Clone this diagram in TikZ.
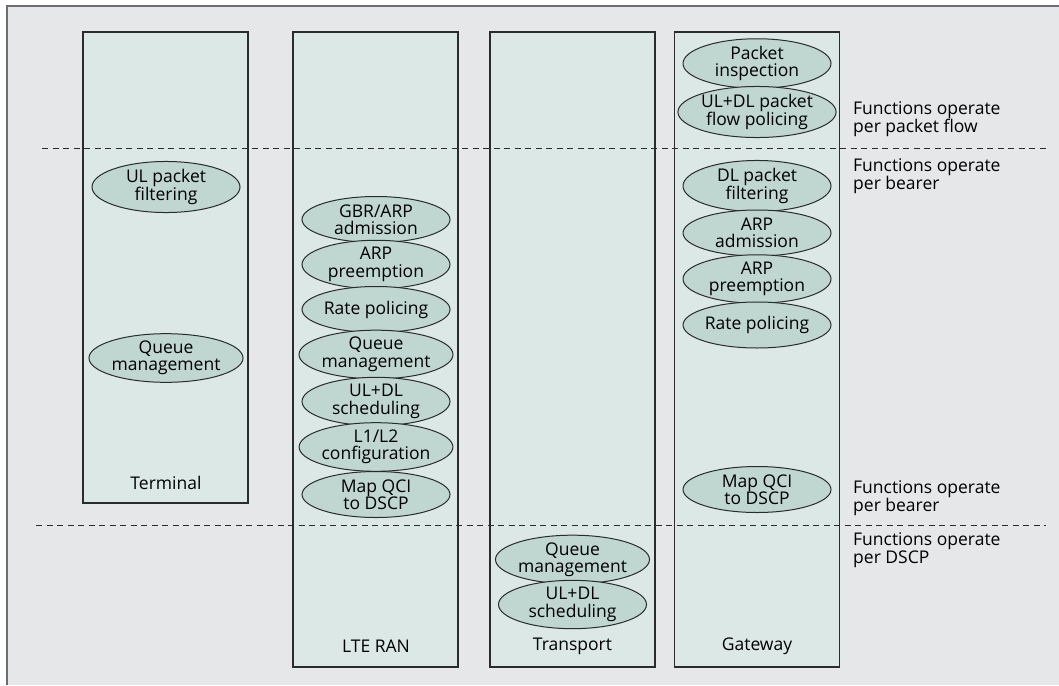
\documentclass[tikz,border=0pt]{standalone}
\usepackage{fontspec}
\setmainfont{Open Sans}
\usetikzlibrary{shapes.geometric}
\definecolor{bg}{HTML}{E6E7E9}
\definecolor{boxfill}{HTML}{DCE8E6}
\definecolor{ellfill}{HTML}{BFD6D1}
\definecolor{framecol}{HTML}{6D6E71}
\definecolor{linecol}{HTML}{2B2B2B}
\tikzset{
  col/.style={draw=linecol, line width=1.1pt, fill=boxfill, minimum width=165, inner sep=0},
  fn/.style={ellipse, draw=linecol, line width=1pt, fill=ellfill, minimum width=148, minimum height=46, inner sep=0, align=center, font=\fontsize{17.5}{17.5}\selectfont},
  lbl/.style={font=\fontsize{17.5}{18}\selectfont, inner sep=0},
  note/.style={anchor=west, align=left, inner sep=0, font=\fontsize{17.5}{18}\selectfont},
  sep/.style={draw=linecol, line width=0.9pt, dash pattern=on 6pt off 4.5pt}
}
\begin{document}
\begin{tikzpicture}[x=1pt,y=-1pt]
\useasboundingbox (0,0) rectangle (1059,685);
\fill[bg] (7,6) rectangle (1059,685);
\draw[framecol, line width=2pt] (7,685) -- (7,6) -- (1059,6);
% columns
\node[col, minimum height=471] (term) at (165.5,267.5) {};
\node[col, minimum height=635] (ran) at (375.5,349.5) {};
\node[col, minimum height=635] (trans) at (572.5,349.5) {};
\node[col, minimum height=635] (gw) at (757,349.5) {};
% separators
\coordinate (s1a) at (42,148); \coordinate (s1b) at (1048,148);
\coordinate (s2a) at (36,525); \coordinate (s2b) at (1046,525);
\draw[sep] (s1a) -- (s1b);
\draw[sep] (s2a) -- (s2b);
% column labels
\node[lbl] (lterm) at (166,483) {Terminal};
\node[lbl] (lran) at (376,646) {LTE RAN};
\node[lbl] (ltrans) at (572.5,646) {Transport};
\node[lbl] (lgw) at (757,646) {Gateway};
% terminal
\node[fn] (t1) at (166,187) {UL packet\\filtering};
\node[fn] (t2) at (166,358) {Queue\\management};
% LTE RAN
\node[fn] (r1) at (376,219.5) {GBR/ARP\\admission};
\node[fn] (r2) at (376,264.5) {ARP\\preemption};
\node[fn] (r3) at (376,309.5) {Rate policing};
\node[fn] (r4) at (376,354.5) {Queue\\management};
\node[fn] (r5) at (376,401.5) {UL+DL\\scheduling};
\node[fn] (r6) at (376,447) {L1/L2\\configuration};
\node[fn] (r7) at (376,494.5) {Map QCI\\to DSCP};
% transport
\node[fn] (p1) at (572.5,559.5) {Queue\\management};
\node[fn] (p2) at (572.5,604.5) {UL+DL\\scheduling};
% gateway
\node[fn] (g1) at (757,63.5) {Packet\\inspection};
\node[fn] (g2) at (757,112) {UL+DL packet\\flow policing};
\node[fn] (g3) at (757,186) {DL packet\\filtering};
\node[fn] (g4) at (757,233) {ARP\\admission};
\node[fn] (g5) at (757,279) {ARP\\preemption};
\node[fn] (g6) at (757,325) {Rate policing};
\node[fn] (g7) at (757,489.5) {Map QCI\\to DSCP};
% notes
\node[note] (n1) at (853,119) {Functions operate\\per packet flow};
\node[note] (n2) at (853,176) {Functions operate\\per bearer};
\node[note] (n3) at (853,498) {Functions operate\\per bearer};
\node[note] (n4) at (853,550) {Functions operate\\per DSCP};
\end{tikzpicture}
\end{document}
